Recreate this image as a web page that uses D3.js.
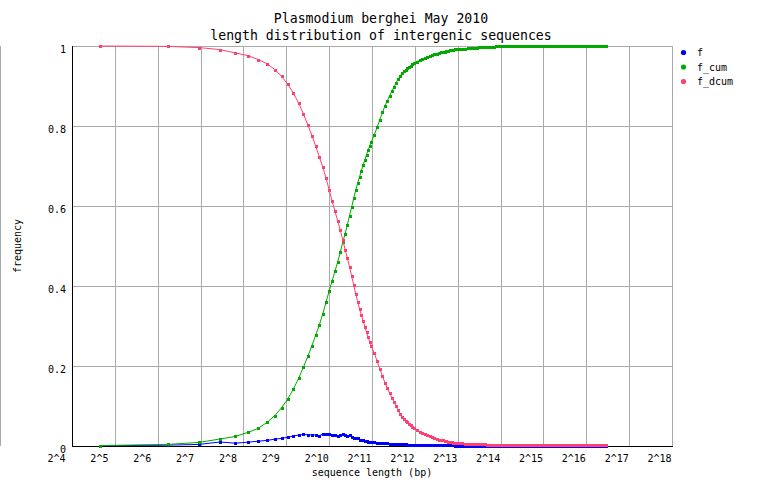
<!DOCTYPE html>
<html><head><meta charset="utf-8">
<script src="https://cdn.jsdelivr.net/npm/d3@7"></script>
<style>
body{margin:0;background:#fff}
svg{display:block;background:#fff}
text{font-family:"DejaVu Sans Mono","Liberation Mono",monospace;fill:#000}
</style>
</head><body>
<svg id="chart" width="762" height="498"></svg>
<script>
// ---- data ----
const binLength = [
  25,75,125,175,225,275,325,375,425,475,525,575,625,675,725,775,825,875,925,975,
  1025,1075,1125,1175,1225,1275,1325,1375,1425,1475,1525,1575,1625,1675,1725,1775,1825,1875,1925,1975,2025,
  2125,2225,2325,2425,2525,2625,2725,2825,2925,3025,3125,3225,3325,3425,3525,3625,3725,3825,3925,4025,
  4225,4425,4625,4825,5025,5225,5425,5625,5825,6025,6225,6425,6625,6825,7025,7225,7425,7625,7825,8025,
  8425,8825,9225,9625,10025,10425,10825,11225,11625,12025,12425,12825,13225,13625,14025,14425,14825,15225,15625,16025,
  16825,17625,18425,19225,20025,20825,21625,22425,23225,24025,24825,25625,26425,27225,28025,28825,29625,30425,31225,32025,
  33625,35225,36825,38425,40025,41625,43225,44825,46425,48025,49625,51225,52825,54425,56025,57625,59225,60825,62425,64025,
  65625,67225,68825,70425,72025,73625,75225,76825,78425,80025,81625,83225,84825,86425,88025,89625
];
const fValues = [
  0.0005,0.002,0.004,0.010,0.007,0.0095,0.012,0.014,0.017,0.019,0.022,0.025,0.0275,0.029,0.028,0.028,0.0275,0.026,0.0295,0.030,
  0.0295,0.027,0.0285,0.025,0.0285,0.029,0.027,0.025,0.027,0.022,0.020,0.019,0.019,0.016,0.015,0.015,0.013,0.012,0.011,0.011,0.011,
  0.0105,0.0085,0.008,0.008,0.007,0.0065,0.006,0.006,0.0055,0.0055,0.005,0.005,0.0045,0.004,0.004,0.0035,0.0035,0.003,0.003,0.003,
  0.003,0.0028,0.0025,0.0025,0.0022,0.002,0.002,0.002,0.0018,0.0018,0.0017,0.0017,0.0016,0.0016,0.0015,0.0015,0.0014,0.0013,0.0012,0.0012,
  0.0011,0.001,0.001,0.0009,0.0009,0.0008,0.0008,0.0007,0.0007,0.0006,0.0006,0.0005,0.0005,0.0005,0.0005,0.0005,0.0005,0.0005,0.0005,0.0005,
  0.0005,0.0005,0.0005,0.0005,0.0005,0.0005,0.0005,0.0005,0.0005,0.0005,0.0005,0.0005,0.0005,0.0005,0.0005,0.0005,0.0005,0.0005,0.0005,0.0005,
  0.0005,0.0005,0.0005,0.0005,0.0005,0.0005,0.0005,0.0005,0.0005,0.0005,0.0005,0.0005,0.0005,0.0005,0.0005,0.0005,0.0005,0.0005,0.0005,0.0005,
  0.0005,0.0005,0.0005,0.0005,0.0005,0.0005,0.0005,0.0005,0.0005,0.0005,0.0005,0.0005,0.0005,0.0005,0.0005,0.0005
];
const fCumValues = [
  0.001,0.004,0.009,0.0175,0.024,0.034,0.044,0.059,0.076,0.096,0.118,0.143,0.169,0.197,0.224,0.251,0.278,0.303,0.331,0.360,
  0.388,0.413,0.437,0.460,0.484,0.509,0.530,0.553,0.576,0.598,0.620,0.640,0.657,0.673,0.688,0.702,0.716,0.728,0.740,0.750,0.760,
  0.778,0.797,0.816,0.834,0.850,0.863,0.876,0.887,0.898,0.908,0.917,0.925,0.932,0.937,0.941,0.945,0.948,0.951,0.954,0.957,
  0.961,0.964,0.967,0.970,0.973,0.975,0.977,0.979,0.981,0.983,0.984,0.985,0.986,0.987,0.988,0.989,0.990,0.991,0.9915,0.992,
  0.9925,0.993,0.9935,0.994,0.9945,0.995,0.9955,0.996,0.9965,0.997,0.997,0.9975,0.9975,0.998,0.998,0.9985,0.9985,0.999,0.999,0.999,
  0.9992,0.9992,0.9993,0.9993,0.9994,0.9994,0.9995,0.9995,0.9995,0.9996,0.9996,0.9996,0.9997,0.9997,0.9997,0.9997,0.9998,0.9998,0.9998,0.9998,
  0.9999,0.9999,0.9999,0.9999,0.9999,0.9999,0.9999,0.9999,0.9999,0.9999,0.9999,0.9999,1,1,1,1,1,1,1,1,
  1,1,1,1,1,1,1,1,1,1,1,1,1,1,1,1
];
const fDcumValues = [
  1.0,0.999,0.996,0.991,0.9825,0.976,0.966,0.956,0.941,0.924,0.904,0.882,0.857,0.831,0.803,0.776,0.749,0.722,0.697,0.669,
  0.640,0.612,0.587,0.563,0.540,0.516,0.491,0.470,0.447,0.424,0.402,0.380,0.360,0.343,0.327,0.312,0.298,0.284,0.272,0.260,0.250,
  0.232,0.212,0.193,0.175,0.158,0.144,0.132,0.121,0.110,0.099,0.089,0.080,0.072,0.067,0.063,0.059,0.056,0.052,0.048,0.045,
  0.040,0.036,0.033,0.030,0.027,0.024,0.022,0.020,0.018,0.016,0.015,0.014,0.013,0.012,0.011,0.010,0.009,0.0085,0.008,0.0075,
  0.007,0.0065,0.006,0.0058,0.0055,0.0052,0.005,0.0047,0.0045,0.0042,0.004,0.0038,0.0036,0.0034,0.0032,0.003,0.0029,0.0028,0.0027,0.0026,
  0.0025,0.0025,0.0025,0.0024,0.0024,0.0024,0.0023,0.0023,0.0023,0.0022,0.0022,0.0022,0.0022,0.0021,0.0021,0.0021,0.0021,0.002,0.002,0.002,
  0.002,0.002,0.002,0.002,0.002,0.0019,0.0019,0.0019,0.0019,0.0019,0.0019,0.0018,0.0018,0.0018,0.0018,0.0018,0.0018,0.0017,0.0017,0.0017,
  0.0017,0.0017,0.0017,0.0016,0.0016,0.0016,0.0016,0.0016,0.0016,0.0016,0.0015,0.0015,0.0015,0.0015,0.0015,0.0015
];
const xTickExponents = [4,5,6,7,8,9,10,11,12,13,14,15,16,17,18];
const yTickValues = [0,0.2,0.4,0.6,0.8,1];
const seriesNames = ["f","f_cum","f_dcum"];
const titleLines = ["Plasmodium berghei May 2010","length distribution of intergenic sequences"];
const xAxisTitle = "sequence length (bp)";
const yAxisTitle = "frequency";

// ---- styles ----
const seriesColors = ["#0000ff","#00aa00","#ff4070"];
const gridColor = "#aaaaaa";

// ---- drawing ----
const svg = d3.select("#chart");
const x = d3.scaleLog().base(2).domain([Math.pow(2,4), Math.pow(2,18)]).range([72, 672]);
const y = d3.scaleLinear().domain([0,1]).range([446, 46]);

// stray gray line at left edge
svg.append("line").attr("x1",0.5).attr("x2",0.5).attr("y1",46).attr("y2",446)
  .attr("stroke",gridColor).attr("shape-rendering","crispEdges");

// vertical grid
const gx = svg.append("g").attr("transform","translate(0,446)")
  .call(d3.axisBottom(x).tickValues(xTickExponents.slice(1).map(e=>Math.pow(2,e))).tickSize(-400).tickFormat(""));
gx.select(".domain").remove();
gx.selectAll("line").attr("stroke",gridColor).attr("shape-rendering","crispEdges");

// horizontal grid
const gy = svg.append("g").attr("transform","translate(72,0)")
  .call(d3.axisLeft(y).tickValues(yTickValues.slice(1)).tickSize(-600).tickFormat(""));
gy.select(".domain").remove();
gy.selectAll("line").attr("stroke",gridColor).attr("shape-rendering","crispEdges");

// black axes
svg.append("line").attr("x1",72.5).attr("x2",72.5).attr("y1",46).attr("y2",446.5)
  .attr("stroke","#000").attr("shape-rendering","crispEdges");
svg.append("line").attr("x1",72).attr("x2",672.5).attr("y1",446.5).attr("y2",446.5)
  .attr("stroke","#000").attr("shape-rendering","crispEdges");

// x tick labels
const xl = svg.append("g").attr("transform","translate(0,446)")
  .call(d3.axisBottom(x).tickValues(xTickExponents.map(e=>Math.pow(2,e))).tickSize(0).tickPadding(9)
    .tickFormat(d => "2^" + Math.round(Math.log2(d))));
xl.select(".domain").remove();
xl.attr("font-family",null).attr("font-size",null);
xl.selectAll("text").attr("text-anchor","start").attr("x",-25).style("font-size","10px");

// y tick labels
const yl = svg.append("g").attr("transform","translate(72,0)")
  .call(d3.axisLeft(y).tickValues(yTickValues).tickSize(0).tickPadding(6)
    .tickFormat(d => d === 0 ? "0" : d === 1 ? "1" : d3.format(".1f")(d)));
yl.select(".domain").remove();
yl.attr("font-family",null).attr("font-size",null);
yl.selectAll("text").attr("dy","0.65em").style("font-size","10px");

// series
const seriesValues = [fValues, fCumValues, fDcumValues];
const line = d3.line().x(d => x(d[0])).y(d => y(d[1]));
seriesValues.forEach((vals, k) => {
  const pts = binLength.map((len, i) => [len, vals[i]]);
  const g = svg.append("g");
  g.append("path").attr("d", line(pts)).attr("fill","none")
    .attr("stroke", seriesColors[k]).attr("stroke-width",1);
  g.selectAll("rect").data(pts).join("rect")
    .attr("x", d => Math.round(x(d[0])) - 1.5)
    .attr("y", d => Math.round(y(d[1])) - 1.5)
    .attr("width",3).attr("height",3)
    .attr("fill", seriesColors[k]).attr("shape-rendering","crispEdges");
});

// legend
const lg = svg.append("g");
seriesNames.forEach((name, k) => {
  const ly = 52.5 + k * 14.5;
  lg.append("circle").attr("cx",683.5).attr("cy",ly).attr("r",2.6).attr("fill",seriesColors[k]);
  lg.append("text").attr("x",697).attr("y",ly + 3.5).style("font-size","10px").text(name);
});

// titles
titleLines.forEach((t, i) => {
  svg.append("text").attr("x",381).attr("y", 23.3 + i * 17).attr("text-anchor","middle")
    .style("font-size","13.2px").text(t);
});
svg.append("text").attr("x",372).attr("y",476).attr("text-anchor","middle")
  .style("font-size","10px").text(xAxisTitle);
svg.append("text").attr("transform","translate(21,246) rotate(-90)").attr("text-anchor","middle")
  .style("font-size","10px").text(yAxisTitle);
</script>
</body></html>
